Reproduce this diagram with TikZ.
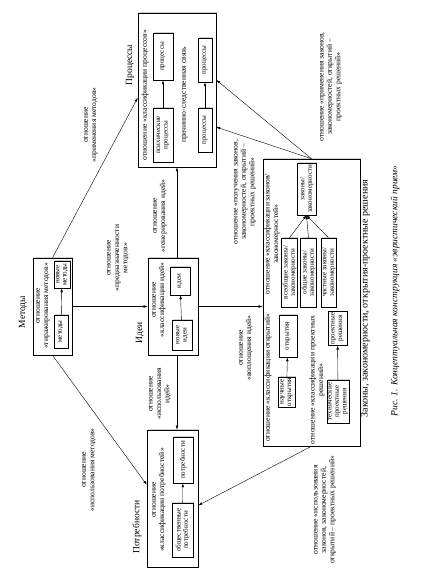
\documentclass[tikz,border=0pt]{standalone}
\usepackage{fontspec}
\setmainfont{Liberation Serif}
\usetikzlibrary{calc,arrows.meta,shadows}

\tikzset{
  grp/.style={draw, fill=white, inner sep=0pt, line width=0.5pt, drop shadow={shadow xshift=1.3pt, shadow yshift=1.3pt, fill=gray!35, opacity=1}},
  itm/.style={draw, fill=white, inner sep=1pt, align=center, font=\fontsize{7}{7.4}\selectfont, drop shadow={shadow xshift=1pt, shadow yshift=1pt, fill=gray!35, opacity=1}},
  rel/.style={inner sep=0pt, align=center, font=\fontsize{7.6}{8.4}\selectfont},
  ttl/.style={inner sep=0pt, font=\fontsize{9.5}{11}\selectfont},
  arr/.style={-{Latex[length=4pt,width=2.6pt]}, line width=0.4pt},
}

\begin{document}
\begin{tikzpicture}[x=1pt,y=1pt]
\begin{scope}[rotate=90, transform shape]
\useasboundingbox (0,0) rectangle (584,428);

% Методы
\node[ttl] (metT) at (272,405) {Методы};
\node[grp, minimum width=97pt, minimum height=39pt] (met) at (277.5,375.5) {};
\node[rel] (metR) at (278,385) {отношение\\«тиражирования методов»};
\node[itm, minimum width=33pt, minimum height=14pt] (metA) at (252.5,367) {методы};
\node[itm, minimum width=27pt, minimum height=16pt] (metB) at (309.5,366) {новые\\методы};
\draw[arr] (metA) -- (metB);

% Идеи
\node[ttl] (ideaT) at (251,288) {Идеи};
\node[grp, minimum width=97pt, minimum height=50pt] (idea) at (277.5,255) {};
\node[rel] (ideaR) at (284,269) {отношение\\«классификации идей»};
\node[itm, minimum width=30pt, minimum height=20pt] (ideaA) at (249,246) {новые\\идеи};
\node[itm, minimum width=28pt, minimum height=20pt] (ideaB) at (303,248) {идеи};
\draw[arr] (ideaA) -- (ideaB);

% Процессы
\node[ttl] (procT) at (519,298) {Процессы};
\node[grp, minimum width=154pt, minimum height=78pt] (proc) at (494,251) {};
\node[rel] (procR) at (489,283) {отношение «классификации процессов»};
\node[itm, minimum width=54pt, minimum height=20pt] (procA) at (449,265) {психические\\процессы};
\node[itm, minimum width=47pt, minimum height=20pt] (procB) at (527.5,265) {процессы};
\draw[arr] (procA) -- (procB);
\node[rel] (procC) at (489,243) {причинно-следственная связь};
\node[itm, minimum width=44pt, minimum height=14pt] (procD) at (454,223) {процессы};
\node[itm, minimum width=44pt, minimum height=14pt] (procE) at (524,223) {процессы};
\draw[arr] (procD) -- (procE);

% Потребности
\node[ttl] (needT) at (57,291) {Потребности};
\node[grp, minimum width=137pt, minimum height=51pt] (need) at (85.5,255.5) {};
\node[rel] (needR) at (84,269) {отношение\\«классификации потребностей»};
\node[itm, minimum width=54pt, minimum height=21pt] (needA) at (54,245.5) {общественные\\потребности};
\node[itm, minimum width=46pt, minimum height=20pt] (needB) at (124,245) {потребности};
\draw[arr] (needA) -- (needB);

% Законы, закономерности, открытия-проектные решения
\node[grp, minimum width=287pt, minimum height=97pt] (law) at (281.5,116.5) {};
\node[ttl, anchor=north, font=\fontsize{10}{12}\selectfont] (lawT) at ([xshift=4pt,yshift=-0.5pt]law.south) {Законы, закономерности, открытия-проектные решения};
\node[rel] (openR) at (206,160) {отношение «классификации открытий»};
\node[itm, minimum width=30pt, minimum height=17pt] (openA) at (192,141.5) {научные\\открытия};
\node[itm, minimum width=42pt, minimum height=18pt] (openB) at (248,140) {открытия};
\draw[arr] (openA) -- (openB);
\node[rel] (projR) at (204,111) {отношение «классификации проектных\\решений»};
\node[itm, minimum width=43pt, minimum height=21pt] (projA) at (182.5,90) {технические\\проектные\\решения};
\node[itm, minimum width=33pt, minimum height=19pt] (projB) at (255.5,90.5) {проектные\\решения};
\draw[arr] (projA) -- (projB);
\node[rel] (lawR) at (350,156) {отношение «классификации законов/\\закономерностей»};
\node[itm, minimum width=69pt, minimum height=15pt] (lawA) at (311.5,138.5) {всеобщие законы/\\закономерности};
\node[itm, minimum width=69pt, minimum height=15pt] (lawB) at (311.5,119.5) {общие законы/\\закономерности};
\node[itm, minimum width=69pt, minimum height=15pt] (lawC) at (311.5,99.5) {частные законы/\\закономерности};
\node[itm, minimum width=52pt, minimum height=19pt] (lawD) at (395,121.5) {законы/\\закономерности};
\foreach \s in {lawA,lawB,lawC}
  \draw[arr] (\s.east) -- (lawD.west);

% связи между группами
\draw[arr] ([yshift=-4pt]idea.east) -- ([yshift=-4pt]idea.east -| proc.west);
\node[rel] (gen) at (368,268) {отношение\\«генерирования идей»};
\draw[arr] (met.south) -- (met.south |- idea.north);
\node[rel] (purp) at (326,310) {отношение\\«предназначенности\\методов»};
\draw[arr] (met.east) -- ($(proc.north west)!0.45!(proc.north east)$);
\node[rel] (apm) at (459,337) {отношение\\«применения методов»};
\draw[arr] (met.west) -- ($(need.north west)!0.6!(need.north east)$);
\node[rel] (usm) at (114,339) {отношение\\«использования методов»};
\draw[arr] ([yshift=-4pt]idea.west) -- ([yshift=-4pt]idea.west -| need.east);
\node[rel] (usi) at (190,268) {отношение\\«использования\\идей»};
\draw[arr] (idea.south) -- (idea.south |- law.north);
\node[rel] (emb) at (236,182) {отношение\\«воплощения идей»};
\draw[arr] (law.east) -- ($(proc.south west)!0.26!(proc.south east)$);
\draw[arr] (law.east) -- ($(proc.south west)!0.565!(proc.south east)$);
\node[rel] (obt) at (392,183) {отношение «получения законов,\\закономерностей, открытий –\\проектных решений»};
\node[rel] (apl) at (497,97) {отношение «применения законов,\\закономерностей, открытий –\\проектных решений»};
\draw[arr] (law.west) -- ($(need.south west)!0.45!(need.south east)$);
\node[rel] (usl) at (74,103) {отношение «использования\\законов, закономерностей,\\открытий – проектных решений»};

\node[font=\fontsize{9.5}{11}\selectfont\itshape] (cap) at (293,33) {Рис. 1. Концептуальная конструкция «эвристический прием»};
\end{scope}
\end{tikzpicture}
\end{document}
